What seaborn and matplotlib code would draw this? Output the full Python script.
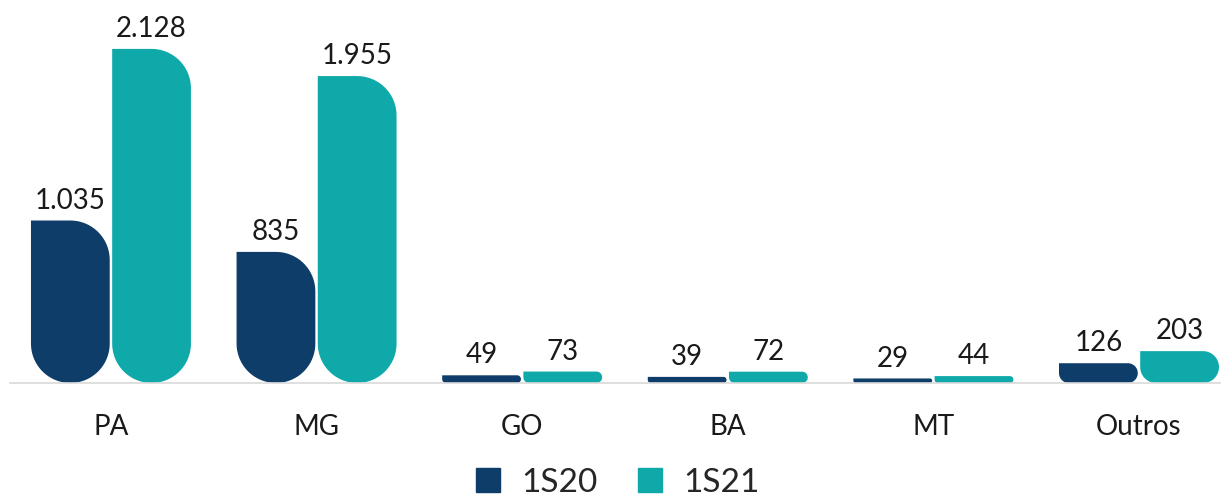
import numpy as np
import pandas as pd
import matplotlib
matplotlib.use('Agg')
import matplotlib.pyplot as plt
from matplotlib.patches import Polygon
from matplotlib.lines import Line2D
import seaborn as sns

estados = ['PA', 'MG', 'GO', 'BA', 'MT', 'Outros']
v_1s20 = [1035, 835, 49, 39, 29, 126]
v_1s21 = [2128, 1955, 73, 72, 44, 203]
series = ['1S20', '1S21']
cores = ['#0E3D6A', '#0FA9AA']

df = pd.DataFrame({'estado': estados * 2,
                   'valor': v_1s20 + v_1s21,
                   'serie': [series[0]] * 6 + [series[1]] * 6})

sns.set_style('white')
plt.rcParams['font.family'] = ['Lato', 'DejaVu Sans']

fig = plt.figure(figsize=(12.31, 4.98), dpi=100)
ax = fig.add_axes([10 / 1231, 115 / 498, 1210 / 1231, 373 / 498])

sns.barplot(data=df, x='estado', y='valor', hue='serie', palette=cores,
            width=0.79, gap=0.03, ax=ax, legend=False, saturation=1)

ax.set_xlim(-0.491, 5.394)
ax.set_ylim(0, 373 / 0.157)
fig.canvas.draw()

# troca os retangulos por barras arredondadas
pxx = ax.transData.transform((1, 0))[0] - ax.transData.transform((0, 0))[0]
pxy = ax.transData.transform((0, 1))[1] - ax.transData.transform((0, 0))[1]


def arco(cx, cy, rx, ry, a0, a1, n=20):
    t = np.linspace(np.radians(a0), np.radians(a1), n)
    return np.column_stack([cx + rx * np.cos(t), cy + ry * np.sin(t)])


rects = list(ax.patches)
for p in rects:
    x0, y0 = p.get_x(), p.get_y()
    w, h = p.get_width(), p.get_height()
    r = min(w * pxx, h * pxy) / 2
    rx, ry = r / pxx, r / pxy
    pts = [[x0, y0 + h]]
    pts += list(arco(x0 + w - rx, y0 + h - ry, rx, ry, 90, 0))
    pts += list(arco(x0 + w - rx, y0 + ry, rx, ry, 0, -90))
    pts += list(arco(x0 + rx, y0 + ry, rx, ry, 270, 180))
    ax.add_patch(Polygon(pts, closed=True, facecolor=p.get_facecolor(),
                         edgecolor='none'))
    p.set_visible(False)

for cont in ax.containers:
    labels = [f'{int(v):,}'.replace(',', '.') for v in cont.datavalues]
    ax.bar_label(cont, labels=labels, padding=5, fontsize=20, color='#1A1A1A')

sns.despine(ax=ax, left=True)
ax.spines['bottom'].set_color('#D9D9D9')
ax.spines['bottom'].set_linewidth(1.2)
ax.set_yticks([])
ax.set_xlabel('')
ax.set_ylabel('')
ax.tick_params(axis='x', length=0, labelsize=20, pad=22, labelcolor='#1A1A1A')

handles = [Line2D([], [], marker='s', linestyle='none', markersize=17,
                  color=c) for c in cores]
fig.legend(handles, series, loc='lower center', ncol=2, frameon=False,
           fontsize=24, bbox_to_anchor=(0.5, -0.06), handletextpad=0.5,
           columnspacing=1.1, handlelength=1.0)

fig.savefig('out.png', dpi=100)
